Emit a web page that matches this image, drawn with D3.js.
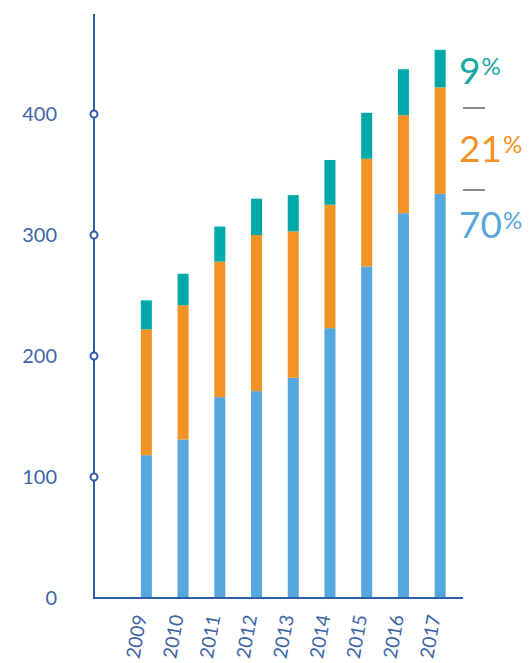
<!DOCTYPE html>
<html>
<head>
<meta charset="utf-8">
<script src="https://cdn.jsdelivr.net/npm/d3@7"></script>
<style>
  body { margin: 0; background: #fff; }
  svg { display: block; font-family: Lato, 'Open Sans', sans-serif; }
</style>
</head>
<body>
<div id="main"></div>
<script>
const w = 529, h = 663

// data
const years = ['2009', '2010', '2011', '2012', '2013', '2014', '2015', '2016', '2017']
const blueVals = [118, 131, 166, 171, 182, 223, 274, 318, 334]
const orangeVals = [104, 111, 112, 129, 121, 102, 89, 81, 88]
const tealVals = [24, 26, 29, 30, 30, 37, 38, 38, 31]
const yTicks = [0, 100, 200, 300, 400]
const shareLabels = ['9', '21', '70']

const colors = { blue: '#55a7dd', orange: '#f39325', teal: '#00a9a9' }
const axisColor = '#2f5ea8'

const svg = d3.select('#main')
  .append('svg')
  .attr('width', w)
  .attr('height', h)

const yScale = d3.scaleLinear()
  .domain([0, 400])
  .range([598, 114])

const xScale = d3.scaleBand()
  .domain(years)
  .range([128, 458.5])
  .paddingInner(0.7)
  .paddingOuter(0.35)

const rows = years.map((y, i) => ({ year: y, blue: blueVals[i], orange: orangeVals[i], teal: tealVals[i] }))
const stack = d3.stack().keys(['blue', 'orange', 'teal'])(rows)

svg.append('g')
  .selectAll('g')
  .data(stack)
  .enter()
  .append('g')
  .attr('fill', d => colors[d.key])
  .selectAll('rect')
  .data(d => d)
  .enter()
  .append('rect')
  .attr('x', d => xScale(d.data.year))
  .attr('width', xScale.bandwidth())
  .attr('y', d => yScale(d[1]))
  .attr('height', d => yScale(d[0]) - yScale(d[1]))

// axes
svg.append('line')
  .attr('x1', 94).attr('x2', 94)
  .attr('y1', 14).attr('y2', yScale(0))
  .attr('stroke', axisColor).attr('stroke-width', 2)

svg.append('line')
  .attr('x1', 93).attr('x2', 463)
  .attr('y1', yScale(0)).attr('y2', yScale(0))
  .attr('stroke', axisColor).attr('stroke-width', 2)

svg.append('g')
  .selectAll('circle')
  .data(yTicks.filter(d => d > 0))
  .enter()
  .append('circle')
  .attr('cx', 94)
  .attr('cy', d => yScale(d))
  .attr('r', 3.5)
  .attr('fill', '#fff')
  .attr('stroke', axisColor)
  .attr('stroke-width', 2)

svg.append('g')
  .selectAll('text')
  .data(yTicks)
  .enter()
  .append('text')
  .attr('x', 57)
  .attr('y', d => yScale(d))
  .attr('dy', '0.35em')
  .attr('text-anchor', 'end')
  .attr('fill', '#3d65a8')
  .style('font-size', '20px')
  .text(d => d)

svg.append('g')
  .selectAll('text')
  .data(years)
  .enter()
  .append('text')
  .attr('transform', d => 'translate(' + (xScale(d) + xScale.bandwidth() / 2 - 6) + ',615) rotate(-80)')
  .attr('dy', '0.35em')
  .attr('text-anchor', 'end')
  .attr('fill', '#3d65a8')
  .style('font-size', '19px')
  .text(d => d)

// share labels on the right
const shareColors = ['#17a9a6', '#f39325', '#5aa7dd']
const shareY = [84, 162, 238]
shareLabels.forEach((s, i) => {
  const t = svg.append('text')
    .attr('x', 459)
    .attr('y', shareY[i])
    .attr('fill', shareColors[i])
    .style('font-size', '37px')
  t.append('tspan').text(s)
  t.append('tspan')
    .attr('dy', -9)
    .attr('dx', 1)
    .style('font-size', '24px')
    .text('%')
})

// little separators
;[108, 190].forEach(y => {
  svg.append('line')
    .attr('x1', 463).attr('x2', 485)
    .attr('y1', y).attr('y2', y)
    .attr('stroke', '#666').attr('stroke-width', 1.5)
})
</script>
</body>
</html>
